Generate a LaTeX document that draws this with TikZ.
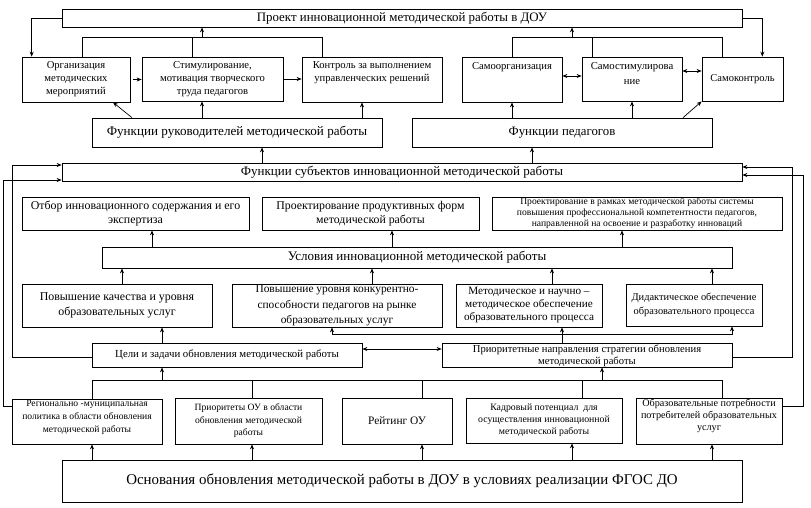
\documentclass[tikz,border=0pt]{standalone}
\usepackage{fontspec}
\setmainfont{Liberation Serif}
\usetikzlibrary{arrows.meta, positioning}
\tikzset{
>={Stealth[length=5pt,width=4pt]}, % small filled arrow heads
box/.style={draw, line width=0.7pt, inner sep=0pt, align=center}, % every block of the scheme
fs/.style 2 args={font=\fontsize{#1}{#2}\selectfont}, % font size and line distance
every label/.style={inner sep=1pt, align=center},
}
\begin{document}
\begin{tikzpicture}[x=1pt, y=-1pt, line width=0.7pt]
        \useasboundingbox (0,0) rectangle (811,507);
        % upper part
        \node[box, fs={12.9}{14}, minimum width=680pt, minimum height=18pt] (proj) at (402,18) {Проект инновационной методической работы в ДОУ};
        \node[box, fs={10.6}{13}, minimum width=108pt, minimum height=45pt] (org) at (76,79.5) {Организация\\методических\\мероприятий};
        \node[box, fs={10.6}{13}, minimum width=141pt, minimum height=44pt] (stim) at (212.5,79) {Стимулирование,\\мотивация творческого\\труда педагогов};
        \node[box, minimum width=140pt, minimum height=45pt, label={[anchor=north, yshift=-4pt, fs={10.6}{13}]north:{Контроль за выполнением\\управленческих решений}}] (kontr) at (372,79.5) {};
        \node[box, minimum width=100pt, minimum height=45pt, label={[anchor=north, yshift=-4pt, fs={10.6}{13}]north:{Самоорганизация}}] (samorg) at (512,79.5) {};
        \node[box, minimum width=100pt, minimum height=44pt, label={[anchor=north, yshift=-4pt, fs={10.7}{15}]north:{Самостимулирова\\ние}}] (samstim) at (632,79) {};
        \node[box, fs={10.5}{13}, minimum width=81pt, minimum height=44pt] (samkontr) at (742.5,79) {Самоконтроль};
        \node[box, fs={13.1}{15}, minimum width=290pt, minimum height=29pt] (frk) at (237,132.5) {Функции руководителей методической работы};
        \node[box, fs={12.8}{15}, minimum width=300pt, minimum height=29pt] (fped) at (562,132.5) {Функции педагогов};
        % middle part
        \node[box, fs={13}{14}, minimum width=680pt, minimum height=18pt] (fsub) at (402,172) {Функции субъектов инновационной методической работы};
        \node[box, fs={11.9}{14}, minimum width=227pt, minimum height=33pt] (otbor) at (135.5,213.5) {Отбор инновационного содержания и его\\экспертиза};
        \node[box, fs={11.8}{14}, minimum width=217pt, minimum height=33pt] (pprod) at (370.5,213.5) {Проектирование продуктивных форм\\методической работы};
        \node[box, fs={9.6}{11}, minimum width=290pt, minimum height=33pt] (prams) at (637,213.5) {Проектирование в рамках методической работы системы\\повышения профессиональной компетентности педагогов,\\направленной на освоение и разработку инноваций};
        \node[box, fs={13}{14}, minimum width=630pt, minimum height=21pt] (usl) at (417,257.5) {Условия инновационной методической работы};
        \node[box, fs={11.9}{15}, minimum width=190pt, minimum height=43pt] (pk) at (117,305.5) {Повышение качества и уровня\\образовательных услуг};
        \node[box, fs={11.4}{15.5}, minimum width=210pt, minimum height=43pt] (pu) at (337,305.5) {Повышение уровня конкурентно-\\способности педагогов на рынке\\образовательных услуг};
        \node[box, fs={11.2}{13}, minimum width=146pt, minimum height=43pt] (mn) at (529,305.5) {Методическое и научно –\\методическое обеспечение\\образовательного процесса};
        \node[box, fs={10.4}{14}, minimum width=136pt, minimum height=42pt] (did) at (694,305) {Дидактическое обеспечение\\образовательного процесса};
        % lower part
        \node[box, fs={10.8}{12}, minimum width=270pt, minimum height=24pt] (celi) at (227,355) {Цели и задачи обновления методической работы};
        \node[box, minimum width=290pt, minimum height=24pt, label={[anchor=north, yshift=-0.5pt, fs={10.6}{12}]north:{Приоритетные направления стратегии обновления\\методической работы}}] (prior) at (587,355) {};
        \node[box, minimum width=150pt, minimum height=45pt, label={[anchor=north, yshift=-0.5pt, fs={9.6}{13}]north:{Регионально -муниципальная\\политика в области обновления\\методической работы}}] (reg) at (87,421.5) {};
        \node[box, fs={9.6}{12.5}, minimum width=147pt, minimum height=46pt] (pou) at (248.5,421) {Приоритеты ОУ в области\\обновления методической\\работы};
        \node[box, fs={11.4}{12}, minimum width=110pt, minimum height=46pt] (reit) at (397,421) {Рейтинг ОУ};
        \node[box, fs={9.8}{12}, minimum width=156pt, minimum height=45pt] (kadr) at (544,420.5) {Кадровый потенциал\ \ для\\осуществления инновационной\\методической работы};
        \node[box, minimum width=146pt, minimum height=46pt, label={[anchor=north, yshift=-0.5pt, fs={10.2}{12}]north:{Образовательные потребности\\потребителей образовательных\\услуг}}] (obr) at (709,421) {};
        \node[box, fs={14.9}{16}, minimum width=680pt, minimum height=42pt] (osn) at (402,481) {Основания обновления методической работы в ДОУ в условиях реализации ФГОС ДО};

        % free ends of the connectors
        \coordinate (t1) at (202,37);
        \coordinate (t2) at (572,37);
        \coordinate (l1) at (12,165);
        \coordinate (l2) at (3,180);
        \coordinate (r1) at (792,167);
        \coordinate (r2) at (803,175);
        \coordinate (m1) at (562,334);
        \coordinate (b1) at (162,380);
        \coordinate (b2) at (602,380);

        % top
        \draw[->] (proj.west) -| ([xshift=10pt]org.north west);
        \draw[->] (proj.east) -| ([xshift=-21pt]samkontr.north east);
        \draw ([xshift=6pt]org.north) |- ([xshift=-50pt]kontr.north |- t1) -- ([xshift=-50pt]kontr.north);
        \draw ([xshift=-20.5pt]stim.north) -- ([xshift=-20.5pt]stim.north |- t1);
        \draw[->] (t1) -- (t1 |- proj.south);
        \draw (samorg.north) |- ([xshift=-20.5pt]samkontr.north |- t2) -- ([xshift=-20.5pt]samkontr.north);
        \draw ([xshift=-40pt]samstim.north) -- ([xshift=-40pt]samstim.north |- t2);
        \draw[->] (t2) -- (t2 |- proj.south);
        \draw[->] ([xshift=3pt]org.east) -- (org.east -| stim.west);
        \draw[->] ([xshift=1pt]stim.east) -- (stim.east -| kontr.west);
        \draw[<->] ([yshift=3.5pt]samorg.east) -- ([yshift=3.5pt]samorg.east -| samstim.west);
        \draw[<->] ([yshift=8pt]samstim.east) -- ([yshift=8pt]samstim.east -| samkontr.west);
        \draw[->] ([xshift=-105pt]frk.north) -- ([xshift=37pt]org.south);
        \draw[->] ([xshift=-35pt]frk.north) -- ([xshift=-35pt]frk.north |- stim.south);
        \draw[->] ([xshift=125pt]frk.north) -- ([xshift=125pt]frk.north |- kontr.south);
        \draw[->] ([xshift=-50pt]fped.north) -- ([xshift=-50pt]fped.north |- samorg.south);
        \draw[->] ([xshift=70pt]fped.north) -- ([xshift=70pt]fped.north |- samstim.south);
        \draw[->] ([xshift=121pt]fped.north) -- (samkontr.south west);
        \draw[->] ([xshift=-140pt]fsub.north) -- ([xshift=-140pt]fsub.north |- frk.south);
        \draw[->] ([xshift=130pt]fsub.north) -- ([xshift=130pt]fsub.north |- fped.south);

        % side loops
        \draw[->] ([yshift=-2pt]celi.west) -| (l1) -- (l1 -| fsub.west);
        \draw[->] ([yshift=15.5pt]reg.west) -| (l2) -- (l2 -| fsub.west);
        \draw[->] ([yshift=-2pt]prior.east) -| (r1) -- (r1 -| fsub.east);
        \draw[->] ([yshift=15pt]obr.east) -| (r2) -- (r2 -| fsub.east);

        % middle
        \draw[->] ([xshift=-265pt]usl.north) -- ([xshift=-265pt]usl.north |- otbor.south);
        \draw[->] ([xshift=-25pt]usl.north) -- ([xshift=-25pt]usl.north |- pprod.south);
        \draw[->] ([xshift=205pt]usl.north) -- ([xshift=205pt]usl.north |- prams.south);
        \draw[->] ([xshift=5pt]pk.north) -- ([xshift=5pt]pk.north |- usl.south);
        \draw[->] ([xshift=35pt]pu.north) -- ([xshift=35pt]pu.north |- usl.south);
        \draw[->] ([xshift=23pt]mn.north) -- ([xshift=23pt]mn.north |- usl.south);
        \draw[->] ([xshift=18pt]did.north) -- ([xshift=18pt]did.north |- usl.south);
        \draw[->] ([xshift=-65pt]celi.north) -- ([xshift=-65pt]celi.north |- pk.south);
        \draw[<->] ([yshift=6pt]celi.east) -- ([yshift=6pt]celi.east -| prior.west);
        \draw[->] ([xshift=-25pt]prior.north) -- ([xshift=-25pt]prior.north |- mn.south);
        \draw[->] (m1) -| ([xshift=-5pt]pu.south);
        \draw[->] (m1) -| ([xshift=38pt]did.south);

        % bottom
        \draw ([xshift=5pt]reg.north) |- ([xshift=13pt]obr.north |- b1) -- ([xshift=13pt]obr.north);
        \draw ([xshift=3.5pt]pou.north) -- ([xshift=3.5pt]pou.north |- b1);
        \draw ([xshift=25pt]reit.north) -- ([xshift=25pt]reit.north |- b1);
        \draw ([xshift=38pt]kadr.north) -- ([xshift=38pt]kadr.north |- b1);
        \draw[->] (b1) -- (b1 |- celi.south);
        \draw[->] (b2) -- (b2 |- prior.south);
        \draw[->] ([xshift=-310pt]osn.north) -- ([xshift=-310pt]osn.north |- reg.south);
        \draw[->] ([xshift=-150pt]osn.north) -- ([xshift=-150pt]osn.north |- pou.south);
        \draw[->] ([xshift=20pt]osn.north) -- ([xshift=20pt]osn.north |- reit.south);
        \draw[->] ([xshift=170pt]osn.north) -- ([xshift=170pt]osn.north |- kadr.south);
        \draw[->] ([xshift=310pt]osn.north) -- ([xshift=310pt]osn.north |- obr.south);
\end{tikzpicture}
\end{document}
